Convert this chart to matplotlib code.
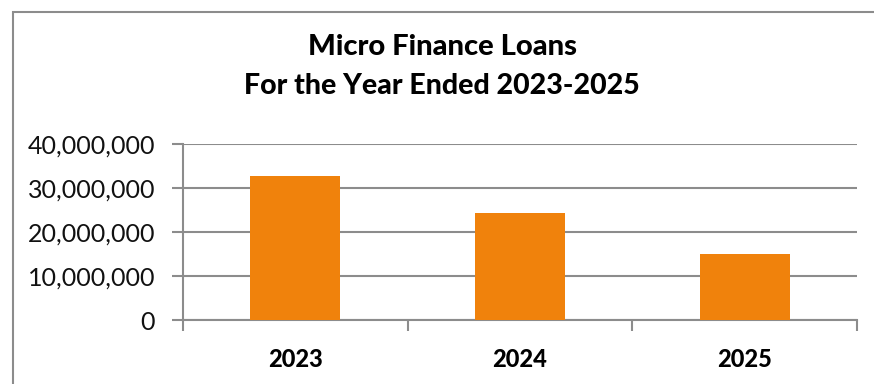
import matplotlib
matplotlib.use("Agg")
import matplotlib.pyplot as plt
from matplotlib.patches import Rectangle
from matplotlib.ticker import FuncFormatter, MultipleLocator, FixedLocator

years = ["2023", "2024", "2025"]
loans = [32_700_000, 24_300_000, 14_900_000]
title_lines = ["Micro Finance Loans", "For the Year Ended 2023-2025"]

plt.rcParams["font.family"] = ["Lato", "DejaVu Sans"]

W, H = 874, 384
fig = plt.figure(figsize=(W / 100, H / 100), dpi=100)
fig.patch.set_facecolor("white")

# outer chart frame (extends past the right and bottom edges)
fig.patches.append(Rectangle((13 / W, -0.1), 1.2, (H - 12) / H + 0.1,
                             transform=fig.transFigure, fill=False,
                             edgecolor="#8c8c8c", linewidth=1.5))

ax = fig.add_axes([183 / W, 1 - 320 / H, (857 - 183) / W, (320 - 144) / H])
x = list(range(len(years)))
ax.bar(x, loans, width=0.4, color="#f0820c", zorder=3)

ax.set_xlim(-0.5, len(years) - 0.5)
ax.set_ylim(0, 40_000_000)
ax.yaxis.set_major_locator(MultipleLocator(10_000_000))
ax.yaxis.set_major_formatter(FuncFormatter(lambda v, p: f"{int(v):,}"))
ax.grid(axis="y", color="#8c8c8c", linewidth=1.5, zorder=0)

ax.set_xticks(x)
ax.set_xticklabels(years, fontsize=17, fontweight="black")
ax.xaxis.set_minor_locator(FixedLocator([-0.5, 0.5, 1.5, 2.5]))
ax.tick_params(axis="x", which="major", length=0, pad=20)
ax.tick_params(axis="x", which="minor", length=8, width=1.5, color="#8c8c8c", direction="out")
ax.tick_params(axis="y", length=8, width=1.5, color="#8c8c8c", labelsize=18, pad=12,
               labelcolor="#111111")

for s in ["top", "right"]:
    ax.spines[s].set_visible(False)
for s in ["left", "bottom"]:
    ax.spines[s].set_color("#8c8c8c")
    ax.spines[s].set_linewidth(1.5)

fig.text(442 / W, 1 - 47 / H, title_lines[0],
         ha="center", va="center", fontsize=21, fontweight="black")
fig.text(442 / W, 1 - 86 / H, title_lines[1],
         ha="center", va="center", fontsize=20.5, fontweight="black")

fig.savefig("out.png", dpi=100)
